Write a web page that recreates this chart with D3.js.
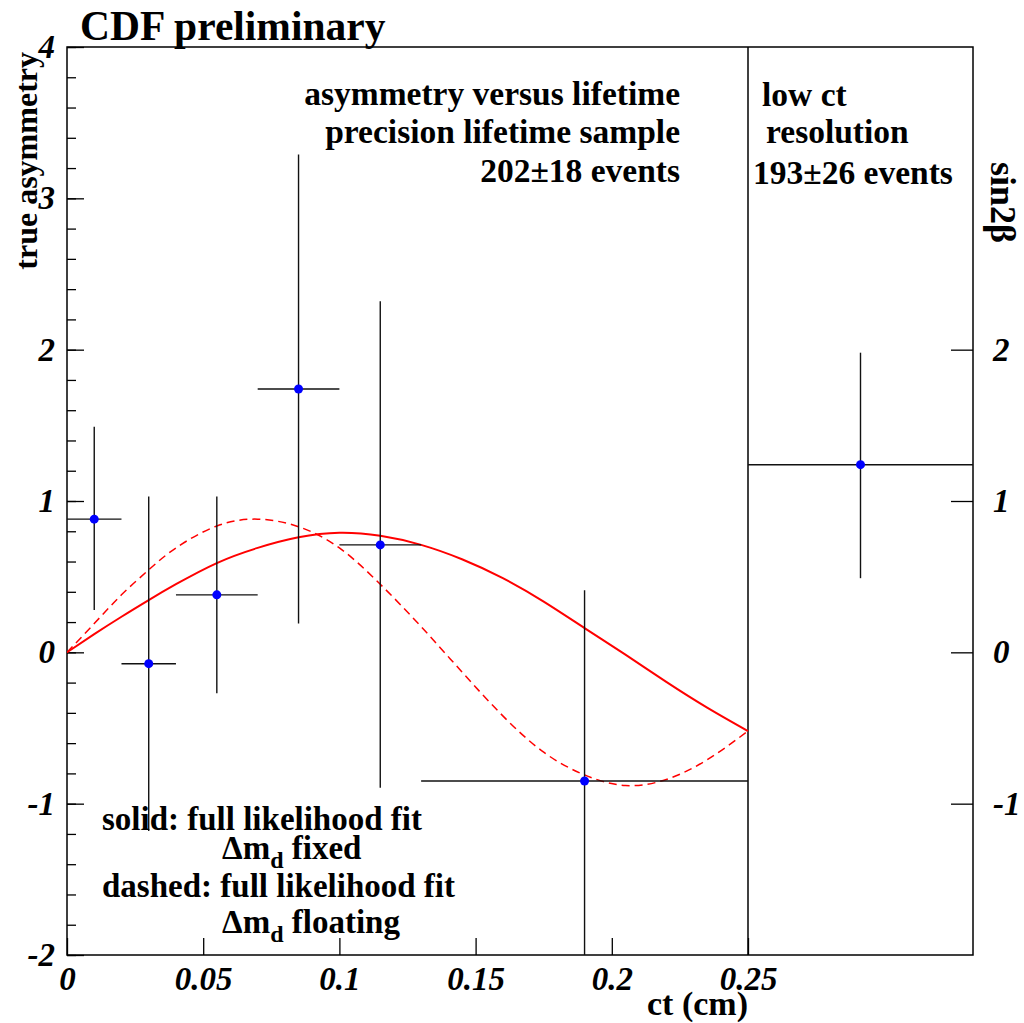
<!DOCTYPE html>
<html>
<head>
<meta charset="utf-8">
<script src="https://cdn.jsdelivr.net/npm/d3@7"></script>
<style>
  body { margin: 0; background: #fff; }
  text { font-family: "Liberation Serif", "DejaVu Serif", serif; font-weight: bold; }
  .tick text { font-style: italic; }
</style>
</head>
<body>
<svg id="chart" width="1024" height="1023"></svg>
<script>
// measured points, precision lifetime sample
const ctCenter = [0.01, 0.03, 0.055, 0.085, 0.115, 0.19];
const ctLow    = [0.0, 0.02, 0.04, 0.07, 0.10, 0.13];
const ctHigh   = [0.02, 0.04, 0.07, 0.10, 0.13, 0.25];
const asym     = [0.88, -0.075, 0.38, 1.74, 0.71, -0.85];
const asymUp   = [1.49, 1.03, 1.03, 3.29, 2.32, 0.41];
const asymDown = [0.28, -1.18, -0.27, 0.19, -0.895, -2.3];

// low ct resolution sample (sin2beta)
const lowResValue = 1.24, lowResUp = 1.98, lowResDown = 0.49;

// fit curves: [ct, asymmetry]
const solidFit = [[0,0],[0.01,0.12],[0.02,0.235],[0.03,0.345],[0.04,0.45],[0.055,0.59],[0.07,0.69],
  [0.085,0.76],[0.1,0.79],[0.115,0.77],[0.13,0.71],[0.145,0.615],[0.16,0.49],[0.175,0.335],
  [0.19,0.16],[0.205,-0.015],[0.22,-0.195],[0.235,-0.365],[0.25,-0.52]];
const dashedFit = [[0,0],[0.01,0.19],[0.02,0.38],[0.03,0.545],[0.04,0.69],[0.055,0.835],[0.07,0.88],
  [0.085,0.83],[0.1,0.69],[0.115,0.45],[0.13,0.17],[0.145,-0.13],[0.16,-0.42],[0.175,-0.66],
  [0.19,-0.81],[0.205,-0.88],[0.22,-0.84],[0.235,-0.71],[0.25,-0.52]];

const xTicks = [0, 0.05, 0.1, 0.15, 0.2, 0.25];
const xTickLabels = ["0", "0.05", "0.1", "0.15", "0.2", "0.25"];
const yTicks = [-2, -1, 0, 1, 2, 3, 4];
const yRightTicks = [-1, 0, 1, 2];

// layout
const pLeft = 67, pRight = 973, pTop = 47, pBottom = 955, pSplit = 748;

const svg = d3.select("#chart");

const x = d3.scaleLinear().domain([0, 0.25]).range([pLeft, pSplit]);
const y = d3.scaleLinear().domain([-2, 4]).range([pBottom, pTop]);
const xLow = d3.scaleLinear().domain([0, 1]).range([pSplit, pRight]);

svg.append("clipPath").attr("id", "plotclip")
  .append("rect").attr("x", pLeft).attr("y", pTop).attr("width", pRight - pLeft).attr("height", pBottom - pTop);

// frame
svg.append("rect")
  .attr("x", pLeft).attr("y", pTop)
  .attr("width", pRight - pLeft).attr("height", pBottom - pTop)
  .attr("fill", "none").attr("stroke", "#000").attr("stroke-width", 1.5);
svg.append("line")
  .attr("x1", pSplit).attr("x2", pSplit).attr("y1", pTop).attr("y2", pBottom)
  .attr("stroke", "#000").attr("stroke-width", 1.5);

const plain = d => String(d); // keeps "-1" with a hyphen like the original

// left axis, major + minor ticks pointing inwards
const yAxis = svg.append("g")
  .attr("transform", `translate(${pLeft},0)`)
  .call(d3.axisLeft(y).tickValues(yTicks).tickSizeInner(-17).tickSizeOuter(0).tickPadding(12).tickFormat(plain));
const yMinor = svg.append("g")
  .attr("transform", `translate(${pLeft},0)`)
  .call(d3.axisLeft(y).tickValues(d3.range(-20, 41, 2).map(v => v / 10)).tickSizeInner(-9).tickSizeOuter(0).tickFormat(""));

// bottom axis
const xAxis = svg.append("g")
  .attr("transform", `translate(0,${pBottom})`)
  .call(d3.axisBottom(x).tickValues(xTicks).tickSizeInner(-17).tickSizeOuter(0).tickPadding(12)
    .tickFormat((d, i) => xTickLabels[i]));

// right axis
const yAxisR = svg.append("g")
  .attr("transform", `translate(${pRight},0)`)
  .call(d3.axisRight(y).tickValues(yRightTicks).tickSizeInner(-22).tickSizeOuter(0).tickPadding(20).tickFormat(plain));

[yAxis, yMinor, xAxis, yAxisR].forEach(g => {
  g.select(".domain").remove();
  g.selectAll(".tick line").attr("stroke", "#000").attr("stroke-width", 1.3);
  g.selectAll(".tick text").attr("font-size", 33).attr("fill", "#000");
});

// fit curves
const plot = svg.append("g").attr("clip-path", "url(#plotclip)");
const line = d3.line().x(d => x(d[0])).y(d => y(d[1])).curve(d3.curveNatural);

plot.append("path").datum(dashedFit)
  .attr("d", line).attr("fill", "none").attr("stroke", "#ff0000")
  .attr("stroke-width", 1.5).attr("stroke-dasharray", "8,5");
plot.append("path").datum(solidFit)
  .attr("d", line).attr("fill", "none").attr("stroke", "#ff0000")
  .attr("stroke-width", 2);

// error bars
const pts = ctCenter.map((c, i) => ({ c, lo: ctLow[i], hi: ctHigh[i], v: asym[i], up: asymUp[i], dn: asymDown[i] }));
plot.selectAll(".hbar").data(pts).join("line")
  .attr("x1", d => x(d.lo)).attr("x2", d => x(d.hi))
  .attr("y1", d => y(d.v)).attr("y2", d => y(d.v))
  .attr("stroke", "#111").attr("stroke-width", 1.4);
plot.selectAll(".vbar").data(pts).join("line")
  .attr("x1", d => x(d.c)).attr("x2", d => x(d.c))
  .attr("y1", d => y(d.up)).attr("y2", d => y(d.dn))
  .attr("stroke", "#111").attr("stroke-width", 1.4);

// low resolution point
plot.append("line")
  .attr("x1", xLow(0)).attr("x2", xLow(1))
  .attr("y1", y(lowResValue)).attr("y2", y(lowResValue))
  .attr("stroke", "#111").attr("stroke-width", 1.4);
plot.append("line")
  .attr("x1", xLow(0.5)).attr("x2", xLow(0.5))
  .attr("y1", y(lowResUp)).attr("y2", y(lowResDown))
  .attr("stroke", "#111").attr("stroke-width", 1.4);

// markers
plot.selectAll(".dot").data(pts).join("circle")
  .attr("cx", d => x(d.c)).attr("cy", d => y(d.v)).attr("r", 4.5).attr("fill", "#0000ff");
plot.append("circle")
  .attr("cx", xLow(0.5)).attr("cy", y(lowResValue)).attr("r", 4.5).attr("fill", "#0000ff");

// titles
svg.append("text").attr("x", 80).attr("y", 40).attr("font-size", 41.5).text("CDF preliminary");

svg.append("text")
  .attr("transform", "translate(37,52) rotate(-90)")
  .attr("text-anchor", "end").attr("font-size", 32).text("true asymmetry");

svg.append("text")
  .attr("transform", "translate(991,162) rotate(90)")
  .attr("font-size", 36).text("sin2β");

svg.append("text").attr("x", pSplit).attr("y", 1015)
  .attr("text-anchor", "end").attr("font-size", 34).text("ct (cm)");

// annotations
const leftNotes = [["asymmetry versus lifetime", 105], ["precision lifetime sample", 143], ["202±18 events", 182]];
svg.selectAll(".lnote").data(leftNotes).join("text")
  .attr("x", 680).attr("y", d => d[1]).attr("text-anchor", "end").attr("font-size", 33.5).text(d => d[0]);

const rightNotes = [["low ct", 762, 106], ["resolution", 766, 143], ["193±26 events", 753, 184]];
svg.selectAll(".rnote").data(rightNotes).join("text")
  .attr("x", d => d[1]).attr("y", d => d[2]).attr("font-size", 33.5).text(d => d[0]);

// legend text
const legend = svg.append("g");
legend.append("text").attr("x", 102).attr("y", 830).attr("font-size", 33).text("solid: full likelihood fit");
const l2 = legend.append("text").attr("x", 222).attr("y", 859).attr("font-size", 33);
l2.append("tspan").text("Δm");
l2.append("tspan").attr("font-size", 24).attr("dy", 9).text("d");
l2.append("tspan").attr("dy", -9).text(" fixed");
legend.append("text").attr("x", 102).attr("y", 897).attr("font-size", 33).text("dashed: full likelihood fit");
const l4 = legend.append("text").attr("x", 222).attr("y", 933).attr("font-size", 33);
l4.append("tspan").text("Δm");
l4.append("tspan").attr("font-size", 24).attr("dy", 9).text("d");
l4.append("tspan").attr("dy", -9).text(" floating");
</script>
</body>
</html>
